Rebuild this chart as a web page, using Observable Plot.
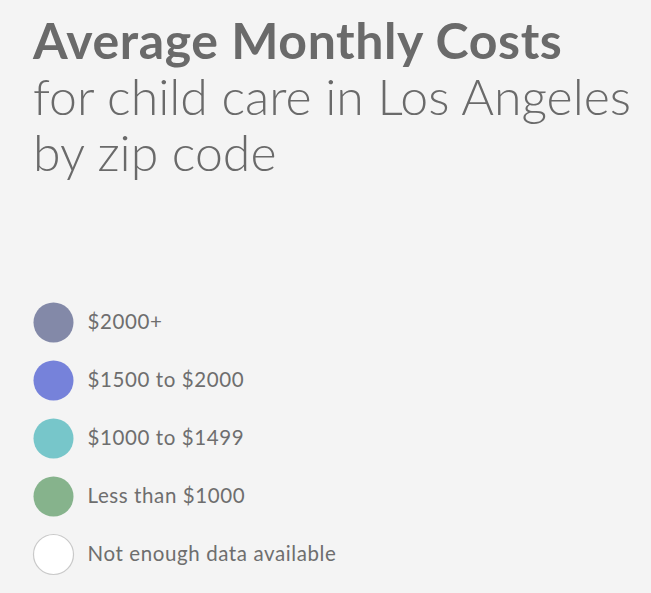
<!DOCTYPE html>
<html>
<head>
<meta charset="utf-8">
<script src="https://cdn.jsdelivr.net/npm/d3@7"></script>
<script src="https://cdn.jsdelivr.net/npm/@observablehq/plot@0.6"></script>
<style>
  html, body { margin: 0; padding: 0; background: #f4f4f4; }
  body { width: 651px; height: 593px; overflow: hidden; position: relative; font-family: Lato, "Open Sans", sans-serif; }
  #title { position: absolute; left: 33px; top: 12px; color: #6a6a6a; white-space: nowrap; }
  #title .h { font-weight: 700; font-size: 50px; line-height: 56px; letter-spacing: 0.6px; }
  #title .s { font-weight: 300; font-size: 50px; line-height: 56px; letter-spacing: 0px; }
  #chart { position: absolute; left: 0; top: 290px; }
</style>
</head>
<body>
<div id="title">
  <div class="h">Average Monthly Costs</div>
  <div class="s">for child care in Los Angeles</div>
  <div class="s">by zip code</div>
</div>
<div id="chart"></div>
<script>
const categories = ["$2000+", "$1500 to $2000", "$1000 to $1499", "Less than $1000", "Not enough data available"];
const colors = ["#8389a8", "#7682da", "#77c6ca", "#86b38c", "#ffffff"];
const strokes = ["none", "none", "none", "none", "#c9c9c9"];

const rows = categories.map((c, i) => ({label: c, fill: colors[i], stroke: strokes[i], sw: 0, tx: 1}));

const chart = Plot.plot({
  width: 651,
  height: 303,
  margin: 0,
  style: {background: "transparent", fontFamily: "Lato, 'Open Sans', sans-serif", letterSpacing: "0.6px"},
  x: {domain: [0, 1], range: [53, 87], axis: null},
  y: {type: "point", domain: categories, range: [31, 265], padding: 0, axis: null},
  marks: [
    Plot.dot(rows, {x: "sw", y: "label", r: 20, fill: "fill", stroke: "stroke", strokeWidth: 1.2}),
    Plot.text(rows, {x: "tx", y: "label", text: "label", textAnchor: "start", fontSize: 20.5, fill: "#6e6e6e"})
  ]
});
document.getElementById("chart").appendChild(chart);
</script>
</body>
</html>
